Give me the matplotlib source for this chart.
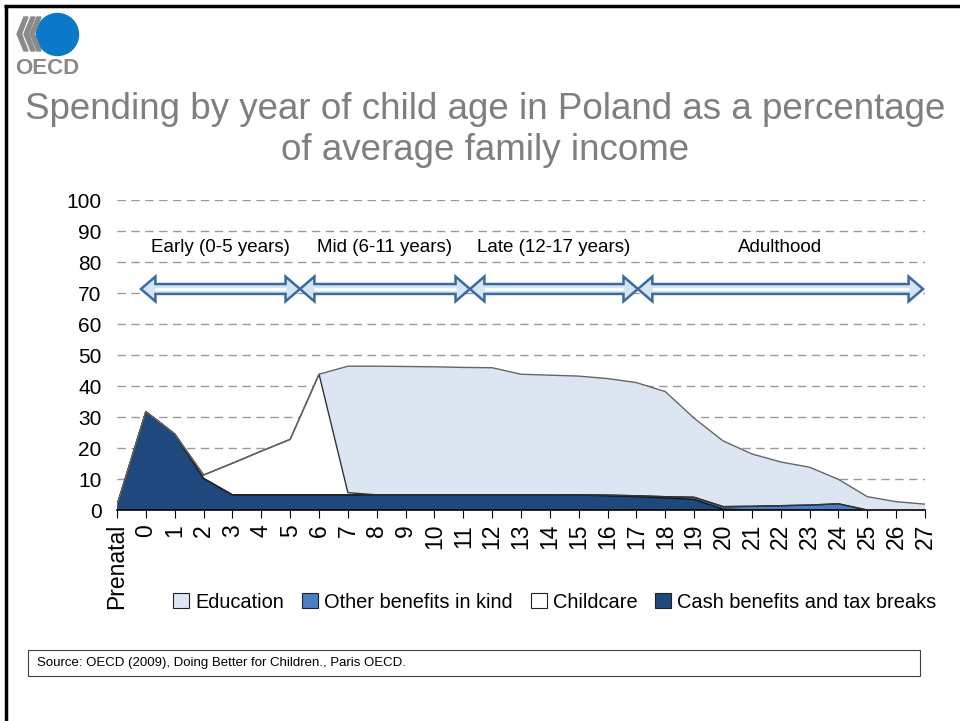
import numpy as np
import matplotlib
matplotlib.use("Agg")
from matplotlib import pyplot as plt
from matplotlib.patches import Circle, Polygon, Rectangle, Patch

plt.rcParams['font.family'] = ['Liberation Sans', 'DejaVu Sans']

# spending by year of child age, % of average family income
ages = ['Prenatal'] + [str(a) for a in range(28)]
cash = [1.5, 31.7, 24.5, 10.2] + [4.9] * 12 + [4.8, 4.6, 4.3, 3.9, 3.4, 0.3] + [0] * 7
other_kind = [0] * 16 + [0.1, 0.2, 0.3, 0.4, 0.7, 0.8, 1.2, 1.4, 1.6, 2.0] + [0] * 3
childcare = [0, 0, 0, 1.1, 10.2, 14.1, 17.9, 38.9, 0.7] + [0] * 20
education = [0] * 8 + [40.8, 41.5, 41.4, 41.3, 41.1, 41.0, 38.9, 38.6, 38.3, 37.6, 36.5,
                       33.9, 25.5, 21.2, 16.9, 14.1, 12.2, 7.9, 4.3, 2.7, 1.9]

stages = ['Early (0-5 years)', 'Mid (6-11 years)', 'Late (12-17 years)', 'Adulthood']
stage_spans = [(0.83, 6.34), (6.34, 12.23), (12.23, 18.05), (18.05, 27.93)]


def double_arrow(ax, a, b, y, hl=0.5, hw=4.0, tw=1.6):
    "Block arrow with heads at both ends, in data coordinates"
    pts = [(a, y), (a + hl, y + hw), (a + hl, y + tw), (b - hl, y + tw), (b - hl, y + hw),
           (b, y), (b - hl, y - hw), (b - hl, y - tw), (a + hl, y - tw), (a + hl, y - hw)]
    ax.add_patch(Polygon(pts, closed=True, fc='#D3E5F4', ec='#3A6A9E', lw=1.8, zorder=4))
    ax.plot([a + hl, b - hl], [y, y], color='white', lw=2, zorder=5, solid_capstyle='butt')


fig = plt.figure(figsize=(9.6, 7.21), dpi=100)

# page decorations in pixel space
deco = fig.add_axes([0, 0, 1, 1], zorder=0)
deco.set_xlim(0, 960)
deco.set_ylim(721, 0)
deco.axis('off')
deco.plot([5.5, 5.5], [5, 721], color='black', lw=2.5, solid_capstyle='butt')
deco.plot([4, 960], [6, 6], color='black', lw=2.5, solid_capstyle='butt')
deco.add_patch(Circle((57.5, 34.5), 21, color='#0B78C8'))
for dx in [0, 7, 13]:
    deco.add_patch(Polygon([(24 + dx, 17), (17 + dx, 34), (24 + dx, 51), (28 + dx, 51),
                            (21.5 + dx, 34), (28 + dx, 17)], closed=True, color='#8A8A8A'))
deco.text(47, 68, 'OECD', fontsize=16, color='#8A8A8A', ha='center', va='center',
          fontweight='bold')
deco.text(485, 130, 'Spending by year of child age in Poland as a percentage\nof average family income',
          fontsize=26.5, color='#7F7F7F', ha='center', va='center', linespacing=1.2)
deco.add_patch(Rectangle((28, 650), 892, 26, fill=False, ec='#404040', lw=0.8))
deco.text(37, 663, 'Source: OECD (2009), Doing Better for Children., Paris OECD.',
          fontsize=9.5, ha='left', va='center')

ax = fig.add_axes([0.1219, 0.2926, 0.8417, 0.43], zorder=1)
ax.patch.set_alpha(0)
x = np.arange(len(ages))
layers = [cash, other_kind, childcare, education]
colors = ['#1F497D', '#4A7EC8', '#FFFFFF', '#DCE6F2']
edges = ['#111111', '#222222', '#333333', '#666666']
bottom = np.zeros(len(ages))
for vals, fc, ec in zip(layers, colors, edges):
    top = bottom + np.array(vals)
    ax.fill_between(x, bottom, top, facecolor=fc, edgecolor='none', zorder=2)
    ax.plot(x, top, color=ec, lw=1.0, zorder=3)
    bottom = top

ax.set_xlim(0, 28)
ax.set_ylim(0, 100)
ax.set_yticks(range(0, 101, 10))
ax.set_xticks(x)
ax.set_xticklabels(ages, rotation=90, fontsize=16.5)
ax.tick_params(axis='y', length=0, labelsize=15, pad=11)
ax.tick_params(axis='x', length=6, direction='out', pad=4)
ax.grid(axis='y', color='#999999', ls=(0, (6, 4)), lw=1.0)
ax.set_axisbelow(True)
for s in ['left', 'right', 'top']:
    ax.spines[s].set_visible(False)
ax.spines['bottom'].set_linewidth(1.2)

# life-stage arrows and labels
for name, (a, b) in zip(stages, stage_spans):
    double_arrow(ax, a, b, 71.3)
    ax.text((a + b) / 2, 84.8, name, ha='center', va='center', fontsize=13.5, zorder=5)

handles = [Patch(facecolor=c, edgecolor='#222222', lw=0.8) for c in
           ['#DCE6F2', '#4A7EC8', '#FFFFFF', '#1F497D']]
labels = ['Education', 'Other benefits in kind', 'Childcare', 'Cash benefits and tax breaks']
fig.legend(handles, labels, loc='center', bbox_to_anchor=(0.578, 0.165), ncol=4,
           frameon=False, fontsize=14.4, handlelength=0.8, handleheight=0.8,
           handletextpad=0.3, columnspacing=0.9)

fig.savefig('out.png', dpi=100)
